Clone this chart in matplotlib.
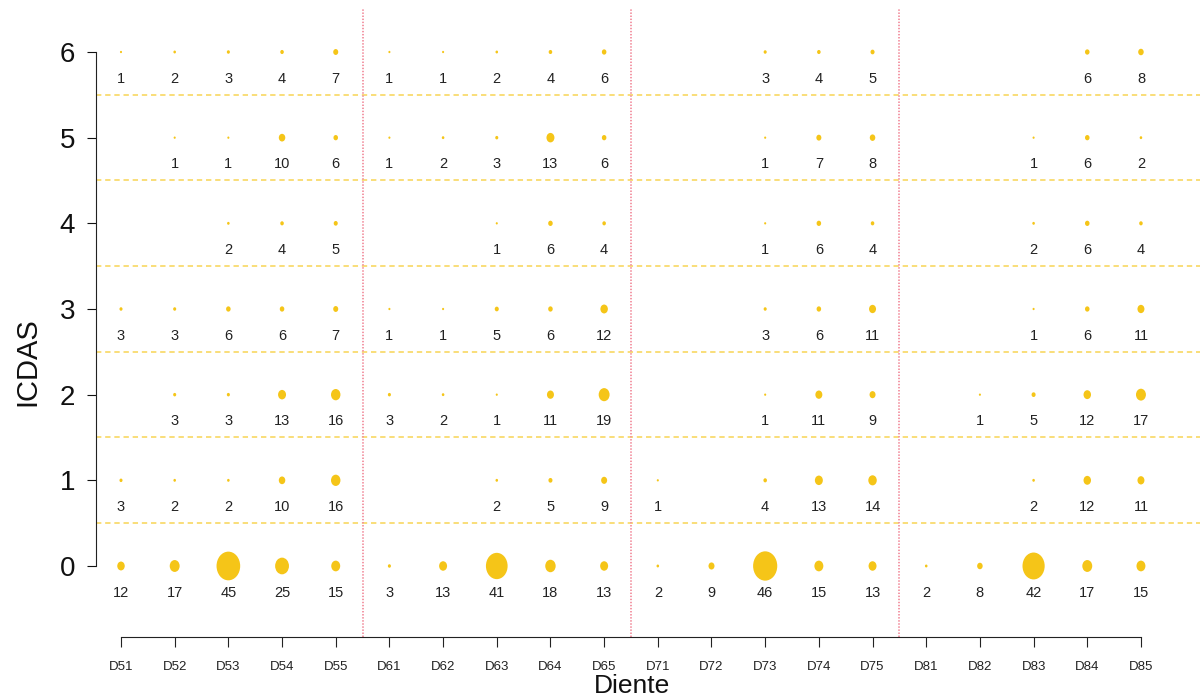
import matplotlib
matplotlib.use("Agg")
import matplotlib.pyplot as plt
from matplotlib.patches import Ellipse
import numpy as np

plt.rcParams['font.family'] = ['Liberation Sans', 'DejaVu Sans']

teeth = ["D51", "D52", "D53", "D54", "D55",
         "D61", "D62", "D63", "D64", "D65",
         "D71", "D72", "D73", "D74", "D75",
         "D81", "D82", "D83", "D84", "D85"]
icdas_levels = [0, 1, 2, 3, 4, 5, 6]

# counts per ICDAS score (rows) and tooth (columns); 0 = no observations
icdas_0 = [12, 17, 45, 25, 15, 3, 13, 41, 18, 13, 2, 9, 46, 15, 13, 2, 8, 42, 17, 15]
icdas_1 = [3, 2, 2, 10, 16, 0, 0, 2, 5, 9, 1, 0, 4, 13, 14, 0, 0, 2, 12, 11]
icdas_2 = [0, 3, 3, 13, 16, 3, 2, 1, 11, 19, 0, 0, 1, 11, 9, 0, 1, 5, 12, 17]
icdas_3 = [3, 3, 6, 6, 7, 1, 1, 5, 6, 12, 0, 0, 3, 6, 11, 0, 0, 1, 6, 11]
icdas_4 = [0, 0, 2, 4, 5, 0, 0, 1, 6, 4, 0, 0, 1, 6, 4, 0, 0, 2, 6, 4]
icdas_5 = [0, 1, 1, 10, 6, 1, 2, 3, 13, 6, 0, 0, 1, 7, 8, 0, 0, 1, 6, 2]
icdas_6 = [1, 2, 3, 4, 7, 1, 1, 2, 4, 6, 0, 0, 3, 4, 5, 0, 0, 0, 6, 8]
counts = [icdas_0, icdas_1, icdas_2, icdas_3, icdas_4, icdas_5, icdas_6]

gold = "#F5C518"
W, H = 1200, 699
fig = plt.figure(figsize=(W / 100, H / 100), dpi=100)
ax_left, ax_bottom_px = 95.5, 637
ax = fig.add_axes([ax_left / W, (H - ax_bottom_px) / H, 1 - ax_left / W, ax_bottom_px / H])

xlim = (0.525, 21.1)
ylim = (-0.829, 6.607)
ax.set_xlim(*xlim)
ax.set_ylim(*ylim)

# pixel -> data scale for the bubbles
ax_w_px = W - ax_left
ax_h_px = ax_bottom_px
ux = (xlim[1] - xlim[0]) / ax_w_px
uy = (ylim[1] - ylim[0]) / ax_h_px

xs = np.arange(1, len(teeth) + 1)

# separators
for yv in np.arange(0.5, 6.0, 1.0):
    ax.axhline(yv, color="#F8D455", lw=1.1, ls=(0, (3.5, 2.5)), zorder=1)
for xv in [5.5, 10.5, 15.5]:
    ax.plot([xv, xv], [ylim[0], 6.5], color="#F2909F", lw=1.3, ls=(0, (0.8, 0.9)), zorder=1)

for lvl, row in zip(icdas_levels, counts):
    for x, n in zip(xs, row):
        if n <= 0:
            continue
        w = (1.6 + 0.49 * n) * ux
        h = (1.7 + 0.6 * n) * uy
        ax.add_patch(Ellipse((x, lvl), w, h, color=gold, lw=0, zorder=3))
        ax.text(x, lvl - 0.31, str(n), ha="center", va="center", fontsize=10.5,
                color="#222222", zorder=4)

for s in ["top", "right"]:
    ax.spines[s].set_visible(False)
ax.spines["left"].set_bounds(0, 6)
ax.spines["bottom"].set_bounds(1, 20)
ax.spines["left"].set_color("#222222")
ax.spines["bottom"].set_color("#222222")

ax.set_xticks(xs)
ax.set_xticklabels(teeth)
ax.set_yticks(icdas_levels)
ax.tick_params(axis="x", length=7, pad=10, labelsize=9.5, colors="#222222")
ax.tick_params(axis="y", length=6.5, pad=8, labelsize=20, colors="#111111")

fig.text(27 / W, 1 - 362 / H, "ICDAS", rotation=90, ha="center", va="center",
         fontsize=21, color="#111111")
fig.text(632 / W, 1 / H, "Diente", ha="center", va="bottom",
         fontsize=19, color="#111111")

fig.savefig("out.png", dpi=100)
